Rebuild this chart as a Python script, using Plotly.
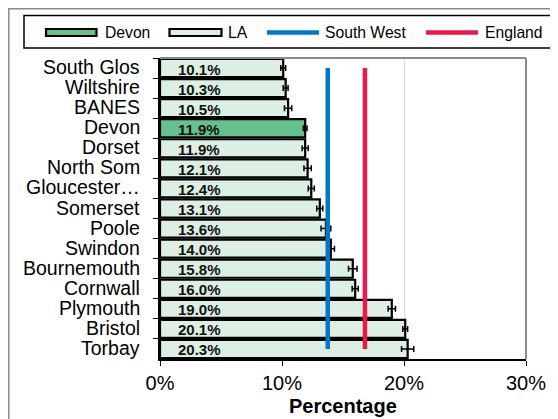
import plotly.graph_objects as go

areas = ["South Glos", "Wiltshire", "BANES", "Devon", "Dorset", "North Som",
         "Gloucester…", "Somerset", "Poole", "Swindon", "Bournemouth",
         "Cornwall", "Plymouth", "Bristol", "Torbay"]
values = [10.1, 10.3, 10.5, 11.9, 11.9, 12.1, 12.4, 13.1, 13.6, 14.0, 15.8,
          16.0, 19.0, 20.1, 20.3]
errors = [0.2, 0.2, 0.3, 0.15, 0.25, 0.3, 0.25, 0.25, 0.4, 0.3, 0.35,
          0.25, 0.3, 0.2, 0.5]
south_west = 13.75
england = 16.8
x_ticks = [0, 10, 20, 30]
x_tick_labels = ["0%", "10%", "20%", "30%"]

DEVON_FILL = "#66C18C"
LA_FILL = "#DDEFE2"
SW_COLOR = "#0077C8"
ENG_COLOR = "#E8194B"
FONT = "Liberation Sans, Arial, sans-serif"

fills = [DEVON_FILL if a == "Devon" else LA_FILL for a in areas]

# The page body has an 8px margin, so the figure is drawn 8px in from the
# window corner; all page-pixel positions below are shifted by that.
OFF = 8
FIG_W, FIG_H = 558 - OFF, 419 - OFF
# plot area in page pixels
PL, PR, PT, PB = 160, 526, 58, 359
L, R, T, B = PL - OFF, PR - OFF, PT - OFF, PB - OFF
W, H = R - L, B - T


def px(x):
    return (x - OFF - L) / W


def py(y):
    return (B - (y - OFF)) / H


fig = go.Figure()
fig.add_trace(go.Bar(
    x=values, y=areas, orientation="h",
    marker=dict(color=fills, line=dict(color="black", width=2.2)),
    error_x=dict(type="data", array=errors, visible=True, color="black",
                 thickness=1.5, width=3),
    showlegend=False, hoverinfo="x+y",
))
fig.add_trace(go.Scatter(
    x=[south_west, south_west], y=[areas[0], areas[-1]], mode="lines",
    line=dict(color=SW_COLOR, width=4.5), showlegend=False,
))
fig.add_trace(go.Scatter(
    x=[england, england], y=[areas[0], areas[-1]], mode="lines",
    line=dict(color=ENG_COLOR, width=4.5), showlegend=False,
))

annotations = []
for a, v in zip(areas, values):
    annotations.append(dict(
        x=1.3, y=a, xref="x", yref="y", text=f"<b>{v:.1f}%</b>",
        showarrow=False, xanchor="left", yanchor="middle", yshift=-1,
        font=dict(family=FONT, size=15, color="#111111"),
    ))

# category labels (drawn as text next to the axis)
for a in areas:
    annotations.append(dict(
        x=px(142), y=a, xref="paper", yref="y", text=a,
        showarrow=False, xanchor="right", yanchor="middle", yshift=1,
        font=dict(family=FONT, size=19.5, color="black"),
    ))

shapes = []
# outer chart border (left/top edges as near the window corner as possible)
shapes.append(dict(type="rect", xref="paper", yref="paper",
                   x0=px(OFF + 0.8), x1=px(600), y0=py(440), y1=py(OFF + 0.8),
                   line=dict(color="#8a8a8a", width=1.5), layer="below"))
# legend box
shapes.append(dict(type="rect", xref="paper", yref="paper",
                   x0=px(24), x1=px(554), y0=py(48), y1=py(15.5),
                   line=dict(color="black", width=1.5), fillcolor="white"))
leg_y = 32.5
# Devon swatch
shapes.append(dict(type="rect", xref="paper", yref="paper",
                   x0=px(46), x1=px(96.5), y0=py(36), y1=py(29),
                   line=dict(color="black", width=2.2), fillcolor=DEVON_FILL))
# LA swatch
shapes.append(dict(type="rect", xref="paper", yref="paper",
                   x0=px(169.5), x1=px(221.5), y0=py(36), y1=py(29),
                   line=dict(color="black", width=2.2), fillcolor=LA_FILL))
# line swatches
shapes.append(dict(type="line", xref="paper", yref="paper",
                   x0=px(267), x1=px(319), y0=py(leg_y), y1=py(leg_y),
                   line=dict(color=SW_COLOR, width=4.5)))
shapes.append(dict(type="line", xref="paper", yref="paper",
                   x0=px(426), x1=px(478), y0=py(leg_y), y1=py(leg_y),
                   line=dict(color=ENG_COLOR, width=4.5)))

for label, xpos in [("Devon", 103), ("LA", 226), ("South West", 323), ("England", 482.5)]:
    annotations.append(dict(
        x=px(xpos), y=py(leg_y), xref="paper", yref="paper", text=label,
        showarrow=False, xanchor="left", yanchor="middle",
        font=dict(family=FONT, size=15.7, color="black"),
    ))

# x axis title
annotations.append(dict(
    x=0.5, y=py(406), xref="paper", yref="paper", text="<b>Percentage</b>",
    showarrow=False, xanchor="center", yanchor="middle",
    font=dict(family=FONT, size=20, color="black"),
))

fig.update_layout(
    width=FIG_W, height=FIG_H,
    margin=dict(l=L, r=FIG_W - R, t=T, b=FIG_H - B),
    paper_bgcolor="white", plot_bgcolor="white",
    bargap=0.1,
    font=dict(family=FONT, color="black"),
    shapes=shapes, annotations=annotations,
    xaxis=dict(
        range=[0, 30], tickvals=x_ticks, ticktext=x_tick_labels,
        showgrid=True, gridcolor="#d9d9d9", gridwidth=1.2,
        showline=True, linecolor="black", linewidth=1.5, mirror=False,
        ticks="outside", ticklen=5, tickcolor="black",
        tickfont=dict(family=FONT, size=20), zeroline=False,
        automargin=False, fixedrange=True,
    ),
    yaxis=dict(
        categoryorder="array", categoryarray=areas,
        range=[len(areas) - 0.5, -0.5], autorange=False,
        showline=True, linecolor="black", linewidth=1.5,
        ticks="outside", ticklen=5, tickcolor="black", tickson="boundaries",
        showticklabels=False, automargin=False,
        showgrid=False, fixedrange=True,
    ),
)
# plot area gray top/right border
fig.add_shape(type="line", xref="paper", yref="paper", x0=0, x1=1, y0=1, y1=1,
              line=dict(color="#8a8a8a", width=2))
fig.add_shape(type="line", xref="paper", yref="paper", x0=1, x1=1, y0=0, y1=1,
              line=dict(color="#8a8a8a", width=2))

fig.write_html("out.html")
